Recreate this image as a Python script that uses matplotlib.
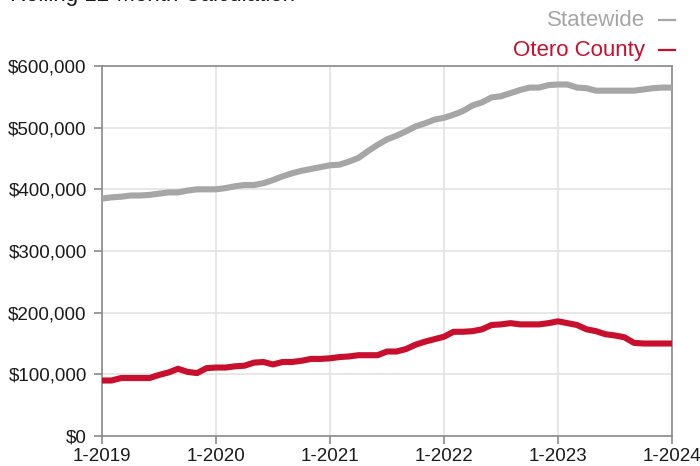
import matplotlib
matplotlib.use("Agg")
import matplotlib.pyplot as plt
from matplotlib.ticker import FuncFormatter
import matplotlib.lines as mlines

plt.rcParams['font.family'] = ['Liberation Sans', 'DejaVu Sans']

tick_labels = ["1-2019", "1-2020", "1-2021", "1-2022", "1-2023", "1-2024"]

statewide = [385, 387, 388, 390, 390, 391, 393, 395, 395, 398, 400, 400,
             400, 402, 405, 407, 407, 410, 415, 421, 426, 430, 433, 436,
             439, 440, 445, 451, 462, 472, 481, 487, 494, 502, 507, 513,
             516, 521, 527, 536, 541, 549, 551, 556, 561, 565, 565, 569,
             570, 570, 565, 564, 560, 560, 560, 560, 560, 562, 564, 565,
             565]
otero = [90, 90, 94, 94, 94, 94, 99, 103, 109, 104, 102, 110,
         111, 111, 113, 114, 119, 120, 116, 120, 120, 122, 125, 125,
         126, 128, 129, 131, 131, 131, 137, 137, 141, 148, 153, 157,
         161, 169, 169, 170, 173, 180, 181, 183, 181, 181, 181, 183,
         186, 183, 180, 173, 170, 165, 163, 160, 151, 150, 150, 150,
         150]

statewide_v = [v * 1000 for v in statewide]
otero_v = [v * 1000 for v in otero]
months = list(range(len(statewide)))

GREY = "#a6a6a6"
RED = "#c8102e"
SPINE = "#8a8a8a"

fig = plt.figure(figsize=(7.0, 4.66), dpi=100)
ax = fig.add_axes([102/700, 1 - 436/466, (672-102)/700, (436-66)/466])

ax.plot(months, statewide_v, color=GREY, lw=4.4, solid_capstyle='butt', solid_joinstyle='round', zorder=3)
ax.plot(months, otero_v, color=RED, lw=4.4, solid_capstyle='butt', solid_joinstyle='round', zorder=3)

ax.set_xlim(0, 60)
ax.set_ylim(0, 600000)
ax.set_xticks(range(0, 61, 12))
ax.set_xticklabels(tick_labels)
ax.set_yticks(range(0, 600001, 100000))
ax.yaxis.set_major_formatter(FuncFormatter(lambda v, p: "${:,.0f}".format(v)))

ax.grid(True, color="#e3e3e3", lw=1.2, zorder=0)
ax.set_axisbelow(True)
for s in ax.spines.values():
    s.set_color(SPINE)
    s.set_linewidth(1.2)
ax.tick_params(axis='both', direction='out', length=6, width=1.2, color=SPINE,
               labelsize=13.5, labelcolor="#1a1a1a", pad=5)
ax.tick_params(axis='x', pad=2.5)

fig.text(10/700, 1 - 1/466, "Rolling 12-Month Calculation", fontsize=16,
         color="#1a1a1a", ha='left', va='baseline')

fig.text(645/700, 1 - 26/466, "Statewide", fontsize=16, color=GREY,
         ha='right', va='baseline')
fig.text(645/700, 1 - 56/466, "Otero County", fontsize=16, color=RED,
         ha='right', va='baseline')
fig.add_artist(mlines.Line2D([659/700, 675/700], [1 - 20/466, 1 - 20/466],
                             color=GREY, lw=1.6, transform=fig.transFigure))
fig.add_artist(mlines.Line2D([659/700, 675/700], [1 - 50/466, 1 - 50/466],
                             color=RED, lw=1.6, transform=fig.transFigure))

fig.savefig("out.png", dpi=100)
